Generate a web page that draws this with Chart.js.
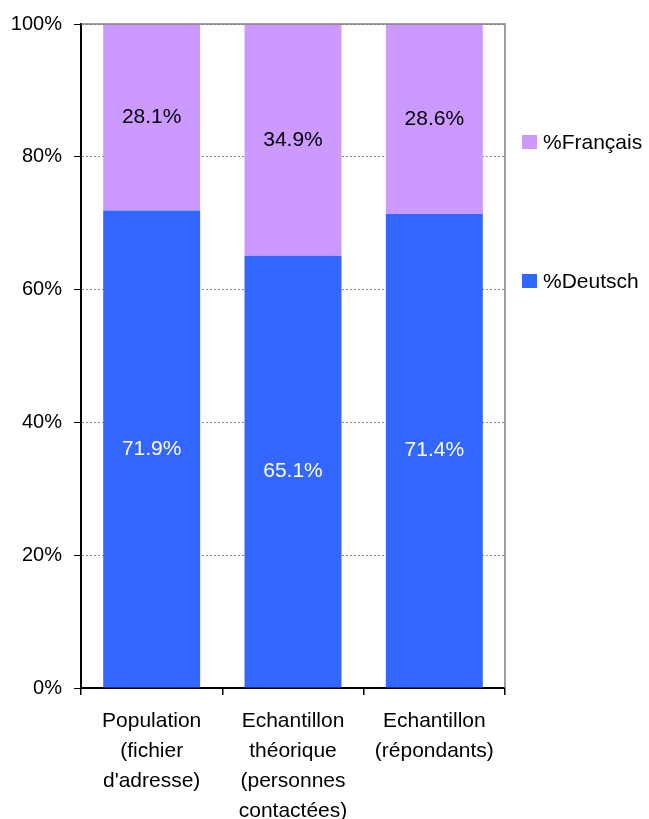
<!DOCTYPE html>
<html>
<head>
<meta charset="utf-8">
<script src="https://cdn.jsdelivr.net/npm/chart.js@4.4.1/dist/chart.umd.min.js"></script>
<style>
    body { margin: 0; background: #fff; }
    #contenedor { width: 649px; height: 819px; position: relative; }
</style>
</head>
<body>
<div id="contenedor"><canvas id="grafica"></canvas></div>
<script>
// categorias y valores (porcentaje por idioma)
const categorias = [
    ['Population', '(fichier', "d'adresse)"],
    ['Echantillon', 'théorique', '(personnes', 'contactées)'],
    ['Echantillon', '(répondants)']
];
const valoresDeutsch = [71.9, 65.1, 71.4];
const valoresFrancais = [28.1, 34.9, 28.6];
const ticksY = [0, 20, 40, 60, 80, 100];

const fuente = 'Arial, "Liberation Sans", sans-serif';

// etiquetas de valor centradas en cada segmento
const etiquetasPlugin = {
    id: 'etiquetas',
    afterDatasetsDraw(chart) {
        const ctx = chart.ctx;
        ctx.save();
        ctx.font = '21px ' + fuente;
        ctx.textAlign = 'center';
        ctx.textBaseline = 'middle';
        chart.data.datasets.forEach((ds, i) => {
            const meta = chart.getDatasetMeta(i);
            ctx.fillStyle = ds.colorTexto;
            meta.data.forEach((bar, j) => {
                const p = bar.getCenterPoint();
                ctx.fillText(ds.data[j].toFixed(1) + '%', p.x, p.y);
            });
        });
        ctx.restore();
    }
};

// borde gris del area (arriba y derecha) y leyenda a la derecha
const bordeLeyendaPlugin = {
    id: 'bordeLeyenda',
    afterDraw(chart) {
        const ctx = chart.ctx;
        const a = chart.chartArea;
        ctx.save();
        ctx.strokeStyle = '#808080';
        ctx.lineWidth = 1.5;
        ctx.beginPath();
        ctx.moveTo(a.left, a.top);
        ctx.lineTo(a.right, a.top);
        ctx.lineTo(a.right, a.bottom);
        ctx.stroke();

        const posY = [142, 281];
        const items = chart.data.datasets.slice().reverse();
        ctx.font = '21px ' + fuente;
        ctx.textBaseline = 'middle';
        ctx.textAlign = 'left';
        items.forEach((ds, i) => {
            ctx.fillStyle = ds.backgroundColor;
            ctx.fillRect(a.right + 17, posY[i] - 7, 15, 14);
            ctx.fillStyle = '#000';
            ctx.fillText(ds.label, a.right + 38, posY[i] + 1);
        });
        ctx.restore();
    }
};

const ctx = document.getElementById('grafica').getContext('2d');
new Chart(ctx, {
    type: 'bar',
    data: {
        labels: categorias,
        datasets: [
            {
                label: '%Deutsch',
                data: valoresDeutsch,
                backgroundColor: '#3366FF',
                colorTexto: '#fff',
                barPercentage: 0.686,
                categoryPercentage: 1
            },
            {
                label: '%Français',
                data: valoresFrancais,
                backgroundColor: '#CC99FF',
                colorTexto: '#000',
                barPercentage: 0.686,
                categoryPercentage: 1
            }
        ]
    },
    options: {
        responsive: true,
        maintainAspectRatio: false,
        animation: false,
        layout: { padding: { left: 0, right: 144, top: 23, bottom: 0 } },
        plugins: {
            legend: { display: false },
            tooltip: { enabled: false }
        },
        scales: {
            x: {
                stacked: true,
                grid: {
                    offset: true,
                    drawOnChartArea: false,
                    tickLength: 7,
                    tickColor: '#000',
                    lineWidth: 1.5
                },
                border: { color: '#000', width: 2 },
                ticks: {
                    color: '#000',
                    font: { family: fuente, size: 21, lineHeight: 1.43 },
                    padding: 11,
                    maxRotation: 0,
                    autoSkip: false
                },
                afterFit(scale) { scale.height = 131; }
            },
            y: {
                stacked: true,
                min: 0,
                max: 100,
                afterBuildTicks(scale) {
                    scale.ticks = ticksY.map(v => ({ value: v }));
                },
                grid: {
                    color: '#8c8c8c',
                    tickBorderDash: [],
                    tickColor: '#000',
                    tickLength: 7,
                    lineWidth: 1
                },
                // en v4 "dash" del borde se aplica a las lineas de la cuadricula
                border: { color: '#000', width: 2, dash: [2, 2] },
                ticks: {
                    color: '#000',
                    font: { family: fuente, size: 20 },
                    padding: 12,
                    callback: v => v + '%'
                },
                afterFit(scale) { scale.width = 81; }
            }
        }
    },
    plugins: [etiquetasPlugin, bordeLeyendaPlugin]
});
</script>
</body>
</html>
